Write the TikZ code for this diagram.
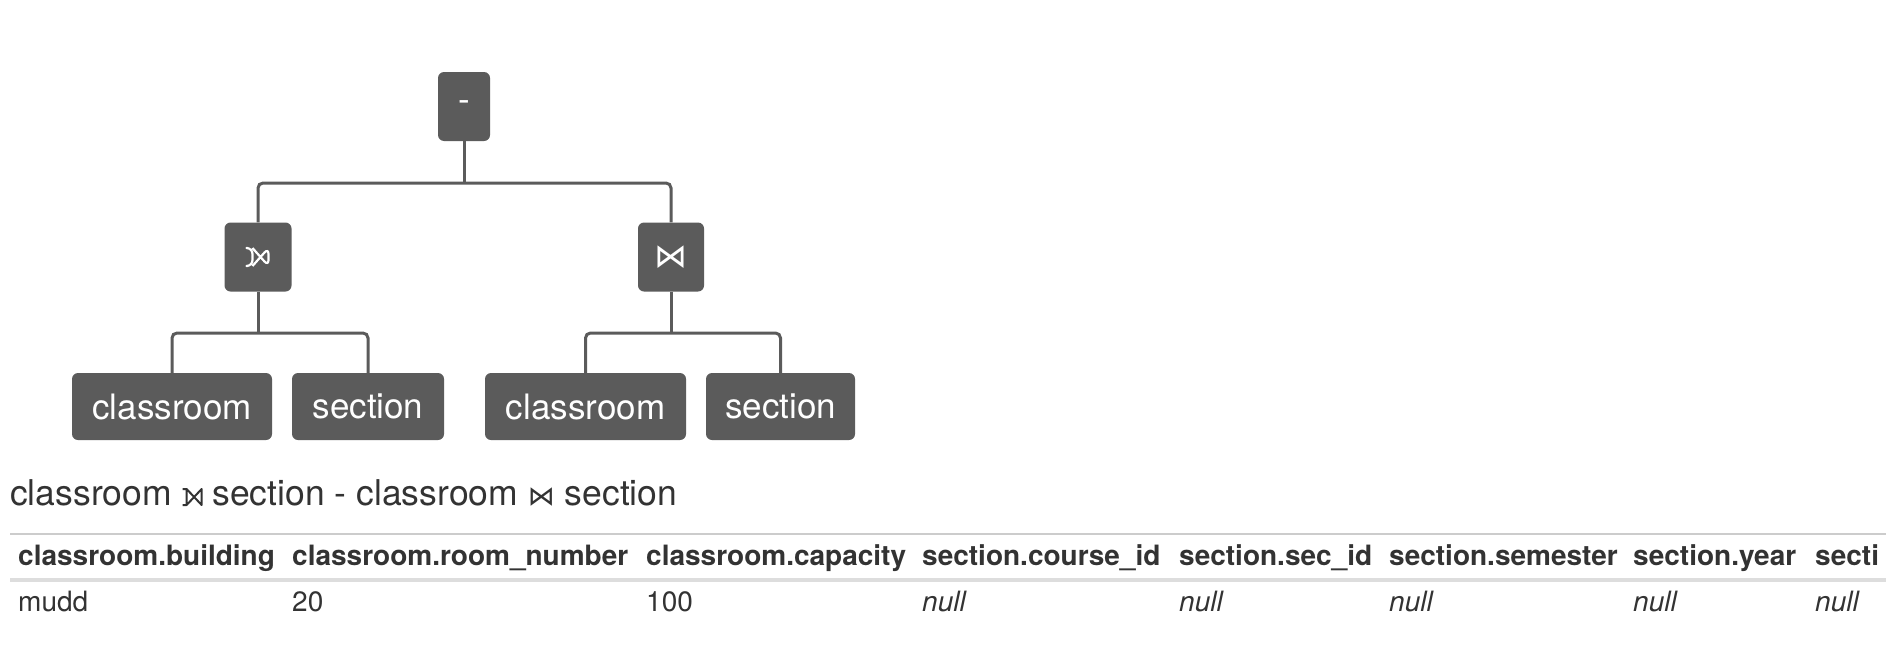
\documentclass[tikz,border=0pt]{standalone}
\usepackage{fontspec}
\setmainfont{TeX Gyre Heros}
\newfontfamily\symfont{DejaVu Sans}
\definecolor{boxgray}{HTML}{5B5B5B}
\definecolor{txtgray}{HTML}{333333}
\definecolor{ruleA}{HTML}{CCCCCC}
\definecolor{ruleB}{HTML}{DDDDDD}
% left outer join symbol drawn as a shape: #1 bowtie width, #2 height, #3 tick, #4 line width, #5 colour
\newcommand{\lojoin}[5]{\tikz[baseline=0pt,x=1pt,y=1pt]\draw[draw=#5,line width=#4,line join=round,line cap=butt] (-#3,0)--(0,0)--(0,#2)--(-#3,#2) (0,0)--(#1,#2)--(#1,0)--(0,#2);}
\begin{document}
\begin{tikzpicture}[x=1pt,y=-1pt,
  opbox/.style={fill=boxgray, rounded corners=6pt, text=white, inner sep=0pt,
    font=\fontsize{35}{40}\selectfont},
  conn/.style={draw=boxgray, line width=3pt},
  hdr/.style={anchor=base west, inner sep=0pt, text=txtgray, font=\fontsize{28}{32}\selectfont\bfseries},
  cell/.style={anchor=base west, inner sep=0pt, text=txtgray, font=\fontsize{28}{32}\selectfont},
  nullcell/.style={cell, font=\fontsize{28}{32}\selectfont\itshape}]
\useasboundingbox (0,0) rectangle (1886,656);
% tree nodes
\node[opbox, minimum width=52pt, minimum height=69pt] (root) at (464,106.5) {-};
\node[opbox, minimum width=67pt, minimum height=69pt] (j1) at (258,257) {\lojoin{16}{18}{5}{2.2pt}{white}};
\node[opbox, minimum width=66pt, minimum height=69pt] (j2) at (671,257) {\fontsize{33}{36}\symfont ⋈};
\node[opbox, minimum width=200pt, minimum height=67pt] (c1) at (172,406.5) {classroom};
\node[opbox, minimum width=152pt, minimum height=67pt] (s1) at (368,406.5) {section};
\node[opbox, minimum width=201pt, minimum height=67pt] (c2) at (585.5,406.5) {classroom};
\node[opbox, minimum width=149pt, minimum height=67pt] (s2) at (780.5,406.5) {section};
% connectors
\coordinate (m1) at (464,183);
\coordinate (y2) at (0,333);
\draw[conn] (root.south) -- (m1);
\draw[conn, rounded corners=5pt] (j1.north) |- (m1) -| (j2.north);
\coordinate (m2) at (j1.south |- y2);
\coordinate (m3) at (j2.south |- y2);
\draw[conn] (j1.south) -- (m2);
\draw[conn, rounded corners=5pt] (c1.north) |- (m2) -| (s1.north);
\draw[conn] (j2.south) -- (m3);
\draw[conn, rounded corners=5pt] (c2.north) |- (m3) -| (s2.north);
% caption
\node[anchor=base west, inner sep=0pt, text=txtgray, font=\fontsize{35.5}{40}\selectfont] (cap) at (10,505)
  {classroom \lojoin{15}{16}{4}{2pt}{txtgray} section - classroom {\symfont\fontsize{27}{30}\selectfont ⋈} section};
% table rules
\coordinate (tl) at (10,534);
\coordinate (tr) at (1886,534);
\coordinate (bl) at (10,580);
\coordinate (br) at (1886,580);
\draw[draw=ruleA, line width=2pt] (tl) -- (tr);
\draw[draw=ruleB, line width=4pt] (bl) -- (br);
% header
\node[hdr] (h1) at (18,565) {classroom.building};
\node[hdr] (h2) at (292,565) {classroom.room\_number};
\node[hdr] (h3) at (646,565) {classroom.capacity};
\node[hdr] (h4) at (922,565) {section.course\_id};
\node[hdr] (h5) at (1179,565) {section.sec\_id};
\node[hdr] (h6) at (1389,565) {section.semester};
\node[hdr] (h7) at (1633,565) {section.year};
\node[hdr] (h8) at (1815,565) {secti};
% data row
\node[cell] (d1) at (18,611) {mudd};
\node[cell] (d2) at (292,611) {20};
\node[cell] (d3) at (646,611) {100};
\node[nullcell] (d4) at (922,611) {null};
\node[nullcell] (d5) at (1179,611) {null};
\node[nullcell] (d6) at (1389,611) {null};
\node[nullcell] (d7) at (1633,611) {null};
\node[nullcell] (d8) at (1815,611) {null};
\end{tikzpicture}
\end{document}
